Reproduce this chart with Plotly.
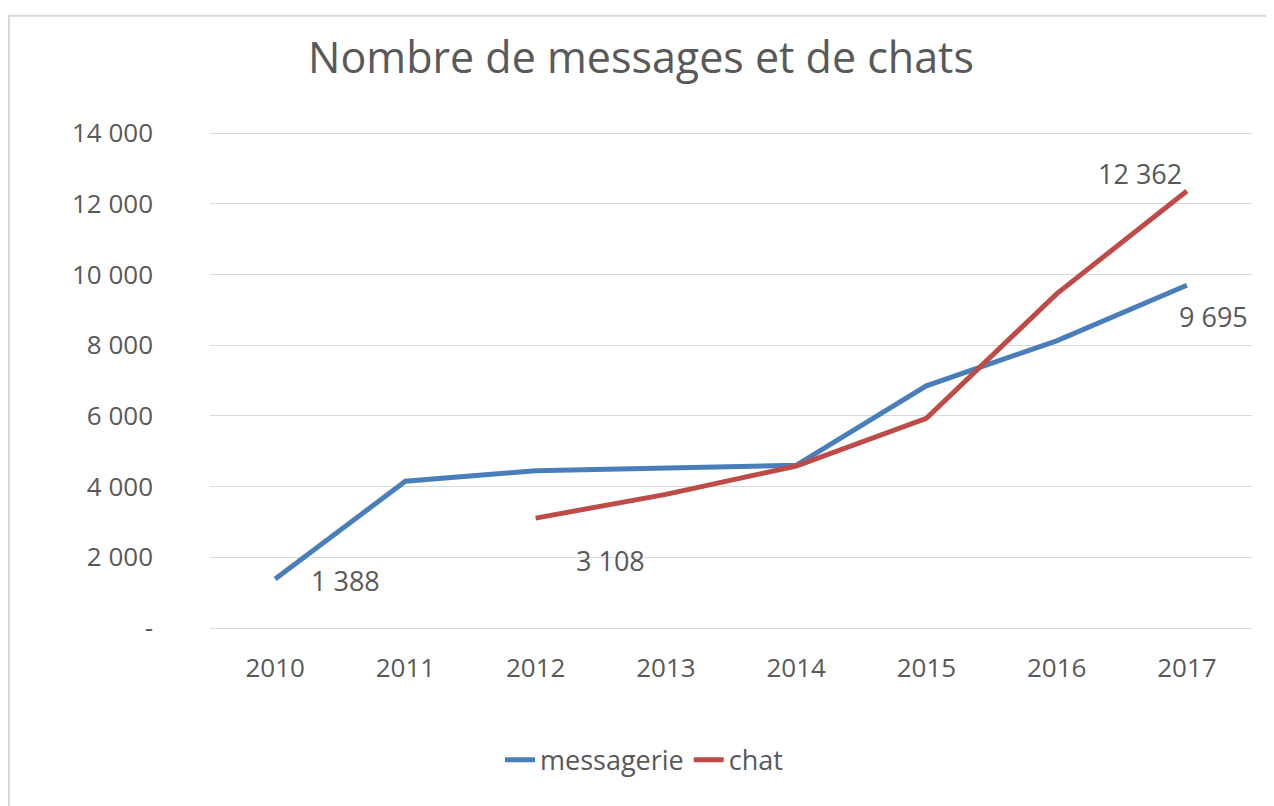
import plotly.graph_objects as go

BLEU = "#4A7EBB"
ROUGE = "#BE4B48"
GRIS = "#595959"

annees = [2010, 2011, 2012, 2013, 2014, 2015, 2016, 2017]
messagerie = [1388, 4150, 4450, 4520, 4600, 6850, 8120, 9695]
chat = [None, None, 3108, 3780, 4580, 5930, 9450, 12362]

y_ticks = [0, 2000, 4000, 6000, 8000, 10000, 12000, 14000]
y_labels = ["-", "2 000", "4 000", "6 000", "8 000", "10 000", "12 000", "14 000"]


def fmt(v):
    return f"{v:,}".replace(",", " ")


fig = go.Figure()
fig.add_trace(go.Scatter(x=annees, y=messagerie, mode="lines", name="messagerie",
                         line=dict(color=BLEU, width=5)))
fig.add_trace(go.Scatter(x=annees, y=chat, mode="lines", name="chat",
                         line=dict(color=ROUGE, width=5)))

# étiquettes de données (premier et dernier point de chaque série)
etiquettes = [
    (annees[0], messagerie[0], 70, -2),
    (annees[2], chat[2], 75, -42),
    (annees[-1], chat[-1], -47, 17),
    (annees[-1], messagerie[-1], 27, -31),
]
for x, y, dx, dy in etiquettes:
    fig.add_annotation(x=x, y=y, text=fmt(y), showarrow=False,
                       xshift=dx, yshift=dy, font=dict(size=27, color=GRIS))

# cadre du graphique (coordonnées papier, zone de tracé élargie de 7 px en haut/bas)
fig.add_shape(type="rect", xref="paper", yref="paper",
              x0=-0.1929, x1=1.0154, y0=-0.3456, y1=1.2168,
              line=dict(color="#D9D9D9", width=2))

fig.update_layout(
    width=1266, height=798,
    margin=dict(l=202, r=22, t=118, b=171, autoexpand=False),
    paper_bgcolor="white", plot_bgcolor="white",
    font=dict(family="Open Sans", color=GRIS, size=26),
    title=dict(text="Nombre de messages et de chats", x=0.5, xanchor="center",
               y=0.937, yanchor="middle", font=dict(size=43, color=GRIS)),
    xaxis=dict(range=[2009.5, 2017.5], tickmode="array", tickvals=annees,
               ticktext=[str(a) for a in annees],
               showgrid=False, showline=False, zeroline=False,
               ticks="", ticklabelstandoff=15, tickfont=dict(size=26, color=GRIS)),
    yaxis=dict(range=[-198, 14198], tickvals=y_ticks, ticktext=y_labels,
               showgrid=True, gridcolor="#D9D9D9", gridwidth=1, zeroline=False,
               ticklabelstandoff=56, tickfont=dict(size=26, color=GRIS)),
    legend=dict(orientation="h", x=0.4165, xanchor="center", y=-0.246, yanchor="middle",
                font=dict(size=27, color=GRIS)),
)

fig.write_html("out.html")
